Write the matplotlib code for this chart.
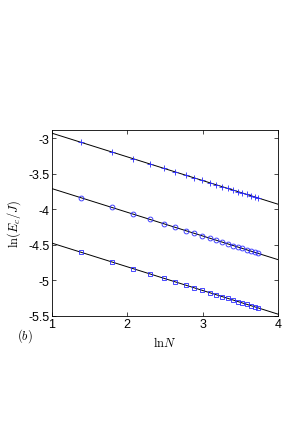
import numpy as np
import matplotlib
matplotlib.use("Agg")
import matplotlib.pyplot as plt

plt.rcParams['mathtext.fontset'] = 'cm'
plt.rcParams['font.family'] = ['Liberation Sans', 'DejaVu Sans']

N = [4, 6, 8, 10, 12, 14, 16, 18, 20, 22, 24, 26, 28, 30, 32, 34, 36, 38, 40, 42]
series_plus = [-3.059, -3.194, -3.290, -3.365, -3.425, -3.477, -3.521, -3.560, -3.596, -3.627,
               -3.656, -3.683, -3.708, -3.731, -3.752, -3.772, -3.792, -3.810, -3.827, -3.843]
series_circle = [-3.839, -3.974, -4.070, -4.145, -4.205, -4.257, -4.301, -4.340, -4.376, -4.407,
                 -4.436, -4.463, -4.488, -4.511, -4.532, -4.552, -4.572, -4.590, -4.607, -4.623]
series_square = [-4.606, -4.741, -4.837, -4.912, -4.972, -5.024, -5.068, -5.107, -5.143, -5.174,
                 -5.203, -5.230, -5.255, -5.278, -5.299, -5.319, -5.339, -5.357, -5.374, -5.390]
fit_intercepts = [-2.597, -3.377, -4.144]
fit_slope = -1.0 / 3.0
fit_x = [1, 4]

x_ticks = [1, 2, 3, 4]
y_ticks = [-5.5, -5, -4.5, -4, -3.5, -3]
y_ticklabels = ['-5.5', '-5', '-4.5', '-4', '-3.5', '-3']

fig = plt.figure(figsize=(3.0, 4.31), dpi=100)
ax = fig.add_axes([0.173, 0.265, 0.754, 0.432])

lnN = np.log(N)
fx = np.array(fit_x, dtype=float)
for a in fit_intercepts:
    ax.plot(fx, a + fit_slope * fx, color='black', lw=0.7, zorder=1)

mk = dict(color='#2a2aff', lw=0, mew=0.6, zorder=2)
ax.plot(lnN, series_plus, marker='+', ms=4.5, **mk)
ax.plot(lnN, series_circle, marker='o', ms=3.5, mfc='none', **mk)
ax.plot(lnN, series_square, marker='s', ms=3.0, mfc='none', **mk)

ax.set_xlim(1, 4)
ax.set_ylim(-5.5, -2.88)
ax.set_xticks(x_ticks)
ax.set_xticklabels([str(t) for t in x_ticks])
ax.set_yticks(y_ticks)
ax.set_yticklabels(y_ticklabels)
ax.tick_params(direction='in', top=True, right=True, labelsize=9, length=3, width=0.5, pad=1.5)
for s in ax.spines.values():
    s.set_linewidth(0.6)

ax.set_ylabel(r'$\ln(E_c/J)$', fontsize=9, labelpad=4)
ax.set_xlabel(r'$\mathrm{ln}N$', fontsize=9, labelpad=4)
fig.text(25/300, 1 - 336/431, r'$(b)$', fontsize=9, ha='center', va='center')

fig.savefig('out.png', dpi=100)
